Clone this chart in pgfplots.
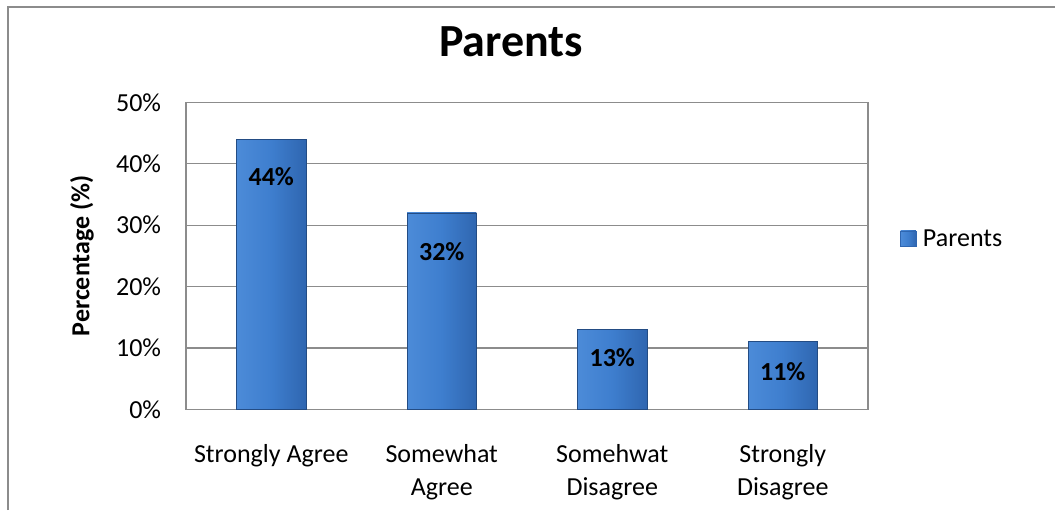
\documentclass[border=0pt]{standalone}
\usepackage{pgfplots}
\pgfplotsset{compat=1.18}
\usepackage{fontspec}
\setmainfont{Carlito}
\definecolor{gridgray}{HTML}{8C8C8C}
\definecolor{barmid}{HTML}{3E7ECE}
\definecolor{barleft}{HTML}{4C8BD8}
\definecolor{barright}{HTML}{2F66B0}
\begin{document}
\begin{tikzpicture}
\path[use as bounding box] (0,0) rectangle (791.25pt,382.5pt);
\draw[gridgray, line width=1.5pt] (6pt,0) -- (6pt,377.25pt) -- (791.25pt,377.25pt);
\node[font=\fontsize{34.5}{36}\selectfont\bfseries, anchor=base] at (383.25pt,339.75pt) {Parents};
\begin{axis}[
  at={(139.5pt,75.5pt)}, anchor=south west,
  scale only axis, width=511.5pt, height=230.25pt,
  xmin=-0.5, xmax=3.5, ymin=0, ymax=50,
  ytick={0,10,20,30,40,50},
  yticklabel={\pgfmathprintnumber{\tick}\%},
  xtick={0,1,2,3},
  xticklabels={Strongly Agree, {Somewhat\\Agree}, {Somehwat\\Disagree}, {Strongly\\Disagree}},
  major tick length=0pt,
  ymajorgrids, grid style={gridgray, line width=0.9pt},
  axis line style={gridgray, line width=0.9pt},
  ticklabel style={font=\fontsize{19.5}{24.75}\selectfont},
  /pgf/number format/assume math mode=true,
  xticklabel style={align=center, anchor=north, inner sep=0pt, yshift=-26pt},
  yticklabel style={anchor=east, inner sep=0pt, xshift=-18.5pt},
  ylabel={Percentage (\%)},
  every axis y label/.style={at={(axis description cs:-0.1525,0.5)}, rotate=90, anchor=center, font=\fontsize{19.5}{24}\selectfont\bfseries},
  legend style={at={(1.047,0.555)}, anchor=west, draw=none, fill=none, font=\fontsize{19.5}{24}\selectfont, inner sep=0pt},
  ybar, bar width=52pt, bar shift=0pt,
  nodes near coords={\pgfmathprintnumber{\pgfplotspointmeta}\%},
  every node near coord/.append style={anchor=north, inner sep=0pt, font=\fontsize{19.5}{24}\selectfont\bfseries, text=black},
  barstyle/.style={draw=barright!75!black, line width=0.5pt, left color=barleft, right color=barright, middle color=barmid},
]
\addplot[barstyle, every node near coord/.append style={yshift=-21pt},
  legend image code/.code={\shade[left color=barleft, right color=barright, middle color=barmid, draw=barright] (0pt,-5.5pt) rectangle (11.5pt,6pt);}]
  coordinates {(0,44)};
\addlegendentry{\hspace{3pt}Parents}
\addplot[barstyle, forget plot, every node near coord/.append style={yshift=-21.75pt}] coordinates {(1,32)};
\addplot[barstyle, forget plot, every node near coord/.append style={yshift=-14.25pt}] coordinates {(2,13)};
\addplot[barstyle, forget plot, every node near coord/.append style={yshift=-15pt}] coordinates {(3,11)};
\end{axis}
\end{tikzpicture}
\end{document}
